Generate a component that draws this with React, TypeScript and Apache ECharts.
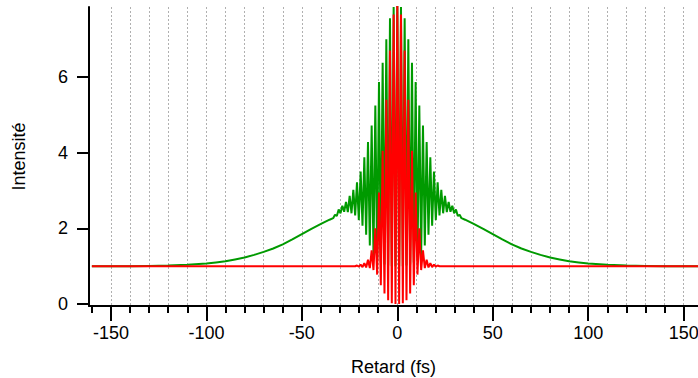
import React, { useEffect, useRef } from "react";
import * as echarts from "echarts";

// Fringe spacing (fs)
const FRINGE_PERIOD = 1.92;

// Green trace: fringe maxima at t = k*period, minima at t = (k+0.5)*period (k = 0,1,...)
const greenPeaks = [8.0, 7.85, 7.55, 7.0, 6.38, 5.87, 5.25, 4.72, 4.28, 3.88, 3.5, 3.22, 3.02, 2.86, 2.7, 2.6, 2.5, 2.36];
const greenTroughs = [1.0, 1.0, 1.02, 1.05, 1.1, 1.18, 1.3, 1.55, 1.83, 2.07, 2.22, 2.34, 2.4, 2.43, 2.44, 2.4, 2.33, 2.27];
// Green smooth wings
const greenTailT = [35.5, 40, 45, 50, 55, 60, 65, 70, 75, 80, 85, 90, 95, 100, 110, 120, 130, 140, 160];
const greenTailV = [2.23, 2.12, 1.99, 1.85, 1.71, 1.58, 1.47, 1.38, 1.3, 1.23, 1.18, 1.13, 1.1, 1.07, 1.04, 1.02, 1.01, 1.0, 1.0];

// Red trace
const redPeaks = [8.0, 7.65, 6.7, 5.4, 4.05, 2.95, 2.0, 1.42, 1.17, 1.08, 1.04, 1.02];
const redTroughs = [0.0, 0.02, 0.1, 0.28, 0.5, 0.78, 0.9, 0.95, 0.97, 0.98, 0.99, 1.0];
const redTailT = [25, 160];
const redTailV = [1.0, 1.0];

// Axis ticks
const xMajorTicks = [-150, -100, -50, 0, 50, 100, 150];
const xMinorTicks = [-160, -150, -140, -130, -120, -110, -100, -90, -80, -70, -60, -50, -40, -30, -20, -10, 0, 10, 20, 30, 40, 50, 60, 70, 80, 90, 100, 110, 120, 130, 140, 150];
const xGridTicks = [-150, -140, -130, -120, -110, -100, -90, -80, -70, -60, -50, -40, -30, -20, -10, 0, 10, 20, 30, 40, 50, 60, 70, 80, 90, 100, 110, 120, 130, 140, 150];
const yTicks = [0, 2, 4, 6];

function buildTrace(peaks: number[], troughs: number[], tailT: number[], tailV: number[]) {
  const right: [number, number][] = [];
  for (let k = 0; k < peaks.length; k++) {
    right.push([k * FRINGE_PERIOD, peaks[k]]);
    if (k < troughs.length) right.push([(k + 0.5) * FRINGE_PERIOD, troughs[k]]);
  }
  for (let i = 0; i < tailT.length; i++) right.push([tailT[i], tailV[i]]);
  const left = right.slice(1).map(([t, v]) => [-t, v] as [number, number]).reverse();
  return [...left, ...right];
}

const FONT = "Liberation Sans, Arial, Helvetica, sans-serif";
const FS = 18;

export default function App() {
  const ref = useRef<HTMLDivElement>(null);
  useEffect(() => {
    if (!ref.current) return;
    const chart = echarts.init(ref.current, null, { renderer: "svg" });
    const X_MIN = -161.5;
    const X_MAX = 157.5;
    const commonX = { type: "value", min: X_MIN, max: X_MAX, position: "bottom" };
    chart.setOption({
      animation: false,
      backgroundColor: "#ffffff",
      grid: { left: 89, right: 0, top: 7, bottom: 72, containLabel: false, outerBoundsMode: "none" },
      xAxis: [
        {
          ...commonX,
          name: "Retard (fs)",
          nameLocation: "middle",
          nameGap: 52,
          nameTextStyle: { fontFamily: FONT, fontSize: FS, color: "#000" },
          axisLine: { show: true, onZero: false, lineStyle: { color: "#000", width: 2 } },
          axisTick: { show: true, customValues: xMajorTicks, length: 15, lineStyle: { color: "#000", width: 2 } },
          axisLabel: { show: true, customValues: xMajorTicks, margin: 18, fontFamily: FONT, fontSize: FS, color: "#000" },
          splitLine: { show: false },
        },
        {
          ...commonX,
          axisLine: { show: false, onZero: false },
          axisTick: { show: true, customValues: xMinorTicks, length: 7, lineStyle: { color: "#000", width: 2 } },
          axisLabel: { show: false },
          splitLine: { show: false },
        },
        {
          ...commonX,
          axisLine: { show: false, onZero: false },
          axisTick: { show: false, customValues: xGridTicks },
          axisLabel: { show: false },
          splitLine: { show: true, lineStyle: { color: "#b0b0b0", width: 1, type: [2, 2] } },
        },
      ],
      yAxis: {
        type: "value",
        min: -0.05,
        max: 7.85,
        name: "Intensité",
        nameLocation: "middle",
        nameGap: 61,
        nameRotate: 90,
        nameTextStyle: { fontFamily: FONT, fontSize: FS, color: "#000" },
        axisLine: { show: true, onZero: false, lineStyle: { color: "#000", width: 2 } },
        axisTick: { show: true, customValues: yTicks, length: 12, lineStyle: { color: "#000", width: 2 } },
        axisLabel: { show: true, customValues: yTicks, margin: 21, fontFamily: FONT, fontSize: FS, color: "#000" },
        splitLine: { show: false },
      },
      series: [
        {
          type: "line",
          xAxisIndex: 0,
          data: buildTrace(greenPeaks, greenTroughs, greenTailT, greenTailV),
          showSymbol: false,
          lineStyle: { color: "#009a00", width: 2 },
          itemStyle: { color: "#009a00" },
          clip: true,
        },
        {
          type: "line",
          xAxisIndex: 0,
          data: buildTrace(redPeaks, redTroughs, redTailT, redTailV),
          showSymbol: false,
          lineStyle: { color: "#ff0000", width: 2 },
          itemStyle: { color: "#ff0000" },
          clip: true,
        },
      ],
    });
    return () => chart.dispose();
  }, []);
  return <div ref={ref} style={{ position: "fixed", left: 0, top: 0, width: 698, height: 378 }} />;
}
